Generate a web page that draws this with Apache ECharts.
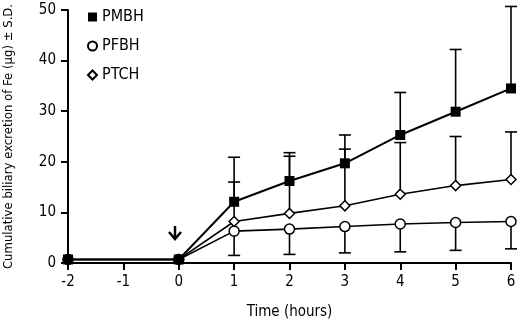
<!DOCTYPE html>
<html>
<head>
<meta charset="utf-8">
<script src="https://cdn.jsdelivr.net/npm/echarts@6/dist/echarts.min.js"></script>
<style>
  html, body { margin: 0; padding: 0; background: #fff; }
  #chart { width: 520px; height: 323px; }
</style>
</head>
<body>
<div id="chart"></div>
<script>
// time points (hours)
var hours = [-2, 0, 1, 2, 3, 4, 5, 6];
// means
var pmbh = [0.7, 0.7, 12.1, 16.2, 19.7, 25.3, 29.9, 34.5];
var pfbh = [0.7, 0.7, 6.3, 6.7, 7.2, 7.7, 8.0, 8.2];
var ptch = [0.7, 0.7, 8.2, 9.8, 11.3, 13.6, 15.3, 16.5];
// S.D. (PMBH, PTCH drawn upward; PFBH drawn downward)
var pmbhSd = [0, 0, 8.8, 5.6, 5.6, 8.4, 12.3, 16.2];
var pfbhSd = [0, 0, 4.8, 5.0, 5.2, 5.5, 5.5, 5.4];
var ptchSd = [0, 0, 7.8, 11.3, 11.2, 10.2, 9.7, 9.4];

var font = '"Liberation Sans Narrow", "DejaVu Sans Condensed", "Liberation Sans", sans-serif';

function pairs(vals) {
  return hours.map(function (h, i) { return [h, vals[i]]; });
}
function bars(vals, sd, dir) {
  var out = [];
  hours.forEach(function (h, i) {
    if (sd[i] > 0) out.push([h, vals[i], vals[i] + dir * sd[i]]);
  });
  return out;
}
function errRender(params, api) {
  var x = api.value(0);
  var p0 = api.coord([x, api.value(1)]);
  var p1 = api.coord([x, api.value(2)]);
  var style = { stroke: '#000', lineWidth: 1.6 };
  return {
    type: 'group',
    children: [
      { type: 'line', shape: { x1: p0[0], y1: p0[1], x2: p1[0], y2: p1[1] }, style: style },
      { type: 'line', shape: { x1: p1[0] - 6, y1: p1[1], x2: p1[0] + 6, y2: p1[1] }, style: style }
    ]
  };
}

var chart = echarts.init(document.getElementById('chart'));
chart.setOption({
  animation: false,
  textStyle: { fontFamily: font },
  grid: { left: 68, right: 9, top: 10, bottom: 60, containLabel: false, outerBoundsMode: 'none' },
  legend: {
    orient: 'vertical',
    left: 82,
    top: 4,
    itemGap: 13,
    itemWidth: 9,
    itemHeight: 9,
    textStyle: { fontFamily: font, fontSize: 16, color: '#000' },
    data: [
      { name: 'PMBH', icon: 'rect' },
      { name: 'PFBH', icon: 'circle' },
      { name: 'PTCH', icon: 'diamond' }
    ]
  },
  xAxis: {
    type: 'value',
    min: -2, max: 6, interval: 1,
    name: 'Time (hours)',
    nameLocation: 'middle',
    nameGap: 42,
    nameTextStyle: { fontFamily: font, fontSize: 15, color: '#000' },
    axisLine: { onZero: false, lineStyle: { color: '#000', width: 2 } },
    axisTick: { length: 7, lineStyle: { color: '#000', width: 2 } },
    axisLabel: { fontFamily: font, fontSize: 15, color: '#000', margin: 12 },
    splitLine: { show: false }
  },
  yAxis: {
    type: 'value',
    min: 0, max: 50, interval: 10,
    name: 'Cumulative biliary excretion of Fe (\u00b5g) \u00b1 S.D.',
    nameLocation: 'middle',
    nameGap: 53,
    nameTextStyle: { fontFamily: font, fontSize: 13, color: '#000' },
    axisLine: { show: true, onZero: false, lineStyle: { color: '#000', width: 2 } },
    axisTick: { show: true, length: 7, lineStyle: { color: '#000', width: 2 } },
    axisLabel: { fontFamily: font, fontSize: 15, color: '#000', margin: 12 },
    splitLine: { show: false }
  },
  graphic: [{
    type: 'polyline', z: 100,
    shape: { points: [[175, 226], [175, 239]] },
    style: { stroke: '#000', lineWidth: 2.5, fill: null }
  }, {
    type: 'polyline', z: 100,
    shape: { points: [[169, 232], [175, 239], [181, 232]] },
    style: { stroke: '#000', lineWidth: 2.5, fill: null }
  }],
  series: [
    { type: 'custom', name: 'errPFBH', renderItem: errRender, data: bars(pfbh, pfbhSd, -1), z: 1, silent: true },
    { type: 'custom', name: 'errPTCH', renderItem: errRender, data: bars(ptch, ptchSd, 1), z: 1, silent: true },
    { type: 'custom', name: 'errPMBH', renderItem: errRender, data: bars(pmbh, pmbhSd, 1), z: 1, silent: true },
    {
      name: 'PFBH', type: 'line', data: pairs(pfbh), z: 3,
      symbol: 'circle', symbolSize: 10, showAllSymbol: true,
      lineStyle: { color: '#000', width: 1.6 },
      itemStyle: { color: '#fff', borderColor: '#000', borderWidth: 1.5 }
    },
    {
      name: 'PTCH', type: 'line', data: pairs(ptch), z: 4,
      symbol: 'diamond', symbolSize: 10, showAllSymbol: true,
      lineStyle: { color: '#000', width: 1.6 },
      itemStyle: { color: '#fff', borderColor: '#000', borderWidth: 1.5 }
    },
    {
      name: 'PMBH', type: 'line', data: pairs(pmbh), z: 5,
      symbol: 'rect', symbolSize: 10, showAllSymbol: true,
      lineStyle: { color: '#000', width: 2 },
      itemStyle: { color: '#000', borderColor: '#000', borderWidth: 0 }
    }
  ]
});
</script>
</body>
</html>
